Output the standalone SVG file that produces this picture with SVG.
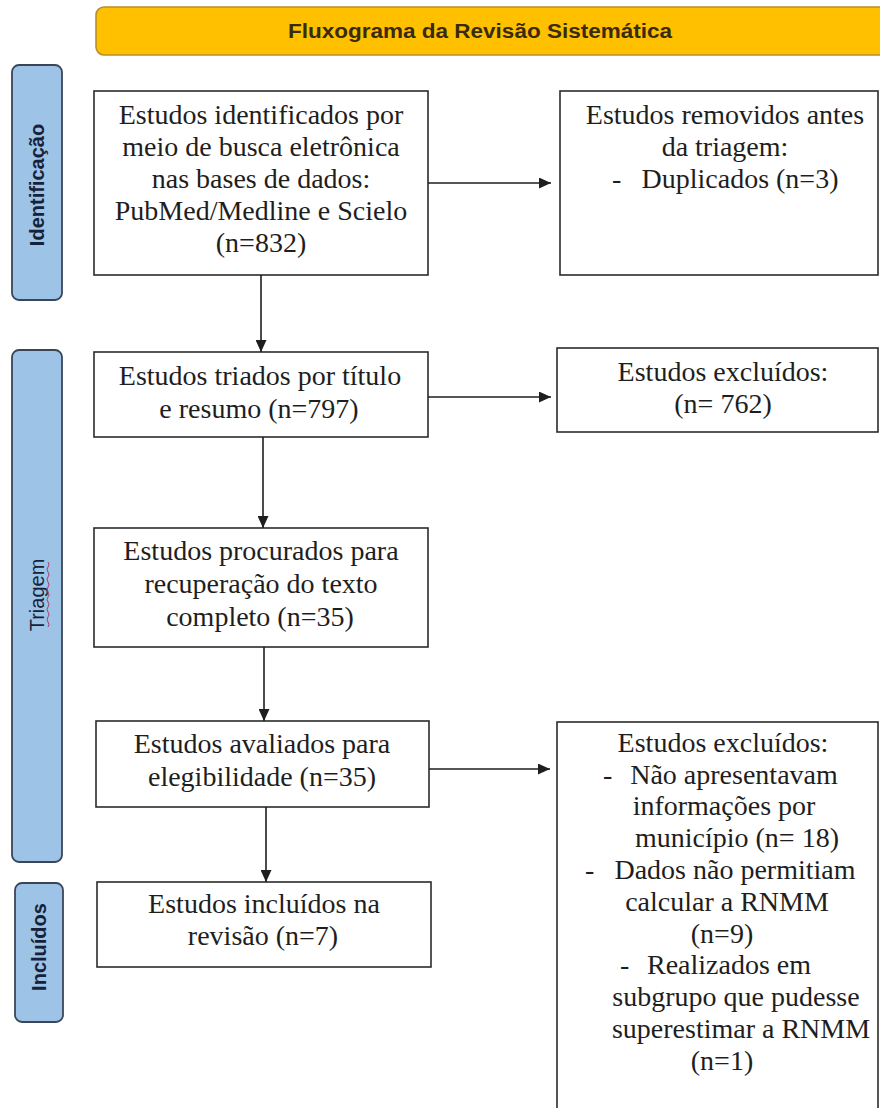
<svg xmlns="http://www.w3.org/2000/svg" width="880" height="1108" viewBox="0 0 880 1108">
<style>
.bx{fill:#ffffff;stroke:#2b2b2b;stroke-width:1.6}
.t{font-family:"Liberation Serif","Times New Roman",serif;font-size:28px;fill:#1e1e1e;text-anchor:middle}
.ts{font-family:"Liberation Serif","Times New Roman",serif;font-size:28px;fill:#1e1e1e}
.side{fill:#9dc3e6;stroke:#3a4658;stroke-width:1.8}
.sl{font-family:"Liberation Sans",Arial,sans-serif;font-size:20px;fill:#16223a;text-anchor:middle}
.ln{stroke:#1e1e1e;stroke-width:1.6;fill:none}
</style>
<defs>
<marker id="ah" markerUnits="userSpaceOnUse" markerWidth="12" markerHeight="11" refX="12" refY="5.5" orient="auto">
<path d="M0,0 L12,5.5 L0,11 z" fill="#1e1e1e"/>
</marker>
</defs>
<rect width="880" height="1108" fill="#ffffff"/>
<g id="title">
<rect x="96" y="7" width="800" height="48" rx="8" fill="#ffc000" stroke="#b8902a" stroke-width="1.6"/>
<text x="480" y="38" font-family="'Liberation Sans',Arial,sans-serif" font-size="20" font-weight="bold" fill="#3a2a10" text-anchor="middle" textLength="384" lengthAdjust="spacingAndGlyphs">Fluxograma da Revisão Sistemática</text>
</g>
<g id="lbl-identificacao">
<rect class="side" x="12" y="65" width="50" height="235" rx="7"/>
<text class="sl" font-weight="bold" transform="translate(44,185) rotate(-90)">Identificação</text>
</g>
<g id="lbl-triagem">
<rect class="side" x="12" y="350" width="50" height="512" rx="7"/>
<text class="sl" font-size="21" transform="translate(44,595) rotate(-90)">Triagem</text>
<path d="M48,562 q2,2.5 0,5 t0,5 t0,5 t0,5 t0,5 t0,5 t0,5 t0,5 t0,5 t0,5 t0,5 t0,5 t0,5" fill="none" stroke="#c0306a" stroke-width="1"/>
</g>
<g id="lbl-incluidos">
<rect class="side" x="15" y="883" width="48" height="139" rx="7"/>
<text class="sl" font-weight="bold" transform="translate(46,947) rotate(-90)">Incluídos</text>
</g>
<g id="n-identificados">
<rect class="bx" x="94" y="91" width="334" height="184"/>
<text class="t" x="261" y="124">Estudos identificados por</text>
<text class="t" x="261" y="156">meio de busca eletrônica</text>
<text class="t" x="261" y="188">nas bases de dados:</text>
<text class="t" x="261" y="220">PubMed/Medline e Scielo</text>
<text class="t" x="261" y="252">(n=832)</text>
</g>
<g id="n-removidos">
<rect class="bx" x="560" y="91" width="318" height="184"/>
<text class="t" x="725" y="124">Estudos removidos antes</text>
<text class="t" x="725" y="156">da triagem:</text>
<text class="ts" x="612" y="188">-</text>
<text class="t" x="740" y="188">Duplicados (n=3)</text>
</g>
<g id="n-triados">
<rect class="bx" x="94" y="352" width="334" height="85"/>
<text class="t" x="260" y="385">Estudos triados por título</text>
<text class="t" x="259" y="418">e resumo (n=797)</text>
</g>
<g id="n-excluidos1">
<rect class="bx" x="557" y="348" width="321" height="84"/>
<text class="t" x="723" y="381">Estudos excluídos:</text>
<text class="t" x="723" y="413">(n= 762)</text>
</g>
<g id="n-procurados">
<rect class="bx" x="94" y="528" width="334" height="119"/>
<text class="t" x="261" y="560">Estudos procurados para</text>
<text class="t" x="261" y="593">recuperação do texto</text>
<text class="t" x="260" y="626">completo (n=35)</text>
</g>
<g id="n-avaliados">
<rect class="bx" x="96" y="721" width="333" height="86"/>
<text class="t" x="262" y="753">Estudos avaliados para</text>
<text class="t" x="262" y="786">elegibilidade (n=35)</text>
</g>
<g id="n-incluidos">
<rect class="bx" x="97" y="882" width="334" height="85"/>
<text class="t" x="264" y="913">Estudos incluídos na</text>
<text class="t" x="263" y="945">revisão (n=7)</text>
</g>
<g id="n-excluidos2">
<rect class="bx" x="557" y="722" width="321" height="400"/>
<text class="t" x="723" y="752">Estudos excluídos:</text>
<text class="ts" x="603" y="784">-</text>
<text class="t" x="734" y="784">Não apresentavam</text>
<text class="t" x="724" y="815">informações por</text>
<text class="t" x="737" y="847">município (n= 18)</text>
<text class="ts" x="585" y="879">-</text>
<text class="t" x="735" y="879">Dados não permitiam</text>
<text class="t" x="727" y="911">calcular a RNMM</text>
<text class="t" x="722" y="943">(n=9)</text>
<text class="ts" x="620" y="974">-</text>
<text class="t" x="729" y="974">Realizados em</text>
<text class="t" x="736" y="1006">subgrupo que pudesse</text>
<text class="t" x="741" y="1038">superestimar a RNMM</text>
<text class="t" x="722" y="1070">(n=1)</text>
</g>
<g id="connectors">
<line class="ln" x1="428" y1="183" x2="551" y2="183" marker-end="url(#ah)"/>
<line class="ln" x1="428" y1="397" x2="551" y2="397" marker-end="url(#ah)"/>
<line class="ln" x1="429" y1="769" x2="550" y2="769" marker-end="url(#ah)"/>
<line class="ln" x1="261" y1="275" x2="261" y2="352" marker-end="url(#ah)"/>
<line class="ln" x1="263" y1="437" x2="263" y2="528" marker-end="url(#ah)"/>
<line class="ln" x1="264" y1="647" x2="264" y2="721" marker-end="url(#ah)"/>
<line class="ln" x1="266" y1="807" x2="266" y2="882" marker-end="url(#ah)"/>
</g>
</svg>
